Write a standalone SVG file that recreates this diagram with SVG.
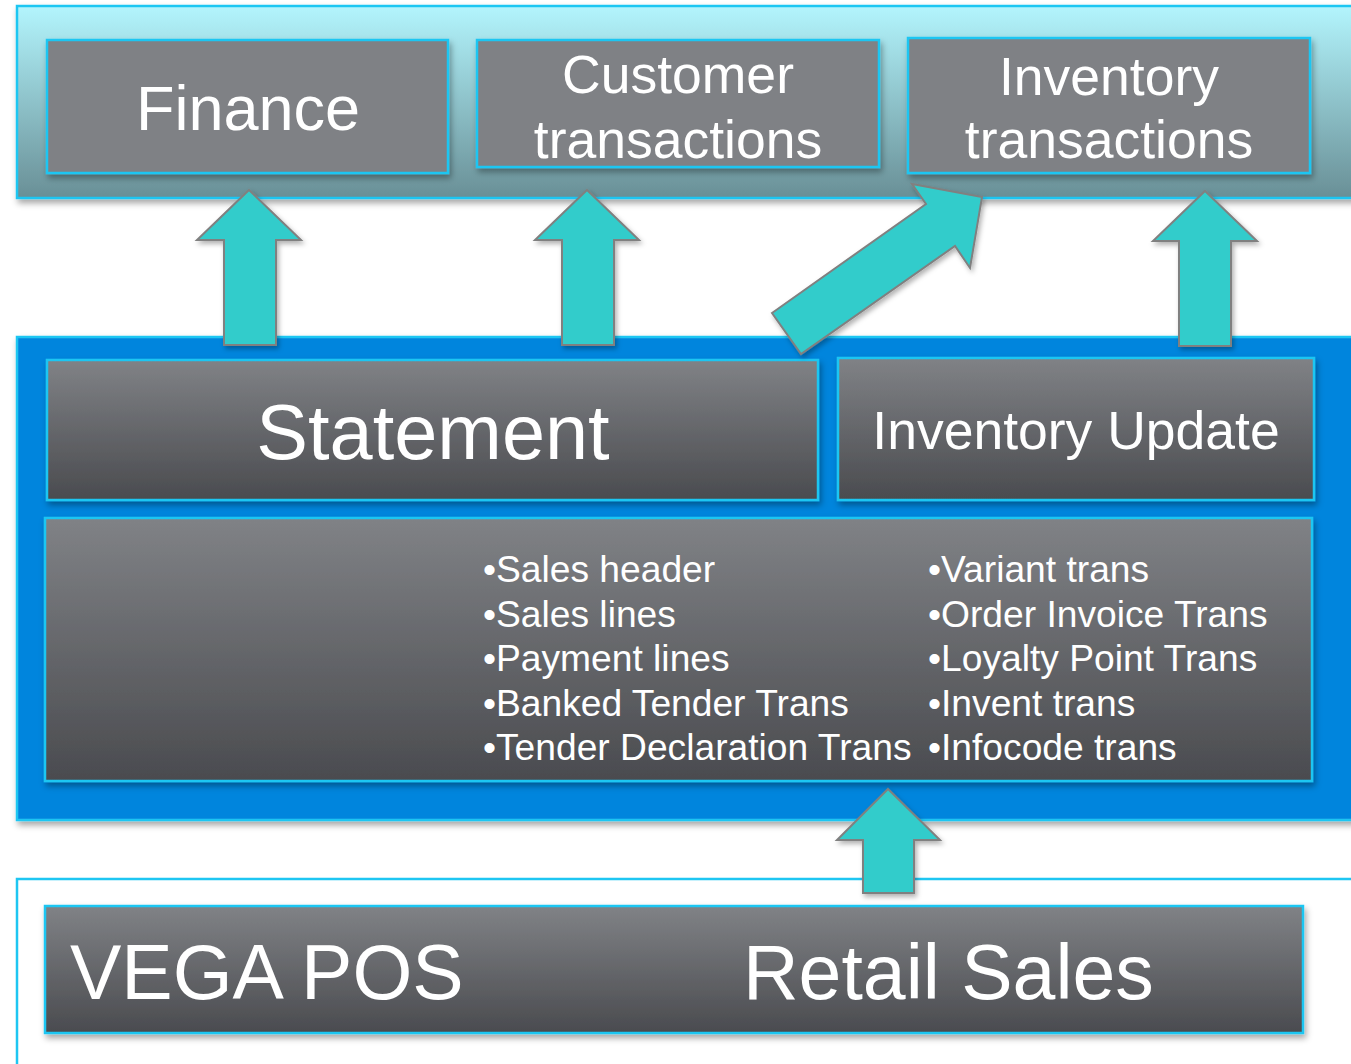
<svg xmlns="http://www.w3.org/2000/svg" width="1351" height="1064" viewBox="0 0 1351 1064">
<defs>
<linearGradient id="gTop" x1="0" y1="0" x2="0" y2="1">
<stop offset="0" stop-color="#b3f5fd"/>
<stop offset="1" stop-color="#698f96"/>
</linearGradient>
<linearGradient id="gBox" x1="0" y1="0" x2="0" y2="1">
<stop offset="0" stop-color="#808286"/>
<stop offset="1" stop-color="#4a4b4f"/>
</linearGradient>
<filter id="sh" x="-10%" y="-10%" width="120%" height="130%">
<feDropShadow dx="2" dy="4" stdDeviation="3" flood-color="#000" flood-opacity="0.35"/>
</filter>
<filter id="shA" x="-20%" y="-20%" width="140%" height="140%">
<feDropShadow dx="2" dy="3" stdDeviation="2.5" flood-color="#000" flood-opacity="0.3"/>
</filter>
</defs>
<style>
.panel{stroke:#1ec6f2;stroke-width:2.5}
.box{stroke:#1ec6f2;stroke-width:2.5;filter:url(#sh)}
.flat{fill:#7f8185}
.grad{fill:url(#gBox)}
.arrow{fill:#33cccb;stroke:#808080;stroke-width:2;stroke-linejoin:miter;filter:url(#shA)}
text{font-family:"Liberation Sans",Arial,sans-serif;fill:#ffffff}
</style>
<rect width="1351" height="1064" fill="#ffffff"/>

<g id="panel-top">
<rect class="panel" x="17" y="6" width="1350" height="192" fill="url(#gTop)" filter="url(#sh)"/>
</g>
<g id="panel-middle">
<rect class="panel" x="17" y="337" width="1350" height="483" fill="#0085dd" filter="url(#sh)"/>
</g>
<g id="panel-bottom">
<rect class="panel" x="17" y="879" width="1350" height="200" fill="#ffffff"/>
</g>

<g id="node-finance">
<rect class="box flat" x="47" y="40" width="401" height="133"/>
<text x="248" y="130" font-size="63" text-anchor="middle">Finance</text>
</g>
<g id="node-customer">
<rect class="box flat" x="477" y="40" width="402" height="127"/>
<text x="678" y="93" font-size="53.5" text-anchor="middle">Customer</text>
<text x="678" y="158" font-size="53.5" text-anchor="middle">transactions</text>
</g>
<g id="node-inventory-trans">
<rect class="box flat" x="908" y="38" width="402" height="135"/>
<text x="1109" y="95" font-size="53.5" text-anchor="middle">Inventory</text>
<text x="1109" y="158" font-size="53.5" text-anchor="middle">transactions</text>
</g>

<g id="node-statement">
<rect class="box grad" x="47" y="360" width="771" height="140"/>
<text x="433" y="459" font-size="77.5" text-anchor="middle">Statement</text>
</g>
<g id="node-inventory-update">
<rect class="box grad" x="838" y="358" width="476" height="142"/>
<text x="1076" y="449" font-size="53.5" text-anchor="middle">Inventory Update</text>
</g>
<g id="node-tables">
<rect class="box grad" x="45" y="518" width="1267" height="263"/>
<g font-size="37.2">
<text x="483" y="582">•Sales header</text>
<text x="483" y="627">•Sales lines</text>
<text x="483" y="671">•Payment lines</text>
<text x="483" y="716">•Banked Tender Trans</text>
<text x="483" y="760">•Tender Declaration Trans</text>
<text x="928" y="582">•Variant trans</text>
<text x="928" y="627">•Order Invoice Trans</text>
<text x="928" y="671">•Loyalty Point Trans</text>
<text x="928" y="716">•Invent trans</text>
<text x="928" y="760">•Infocode trans</text>
</g>
</g>

<g id="node-vega">
<rect class="box grad" x="45" y="906" width="1258" height="127"/>
<text x="70" y="999" font-size="77">VEGA POS</text>
<text x="743" y="999" font-size="77">Retail Sales</text>
</g>

<g id="connectors">
<polygon class="arrow" points="249,190 301,240 276,240 276,345 224,345 224,240 197,240"/>
<polygon class="arrow" points="587,190 639,240 614,240 614,345 562,345 562,240 535,240"/>
<polygon class="arrow" points="1205,191 1257,241 1231,241 1231,346 1179,346 1179,241 1153,241"/>
<polygon class="arrow" points="772,313 926,204 912,184 982,197 970,268 955,246 801,354"/>
<polygon class="arrow" points="888,789 940,840 914,840 914,893 863,893 863,840 837,840"/>
</g>
</svg>
